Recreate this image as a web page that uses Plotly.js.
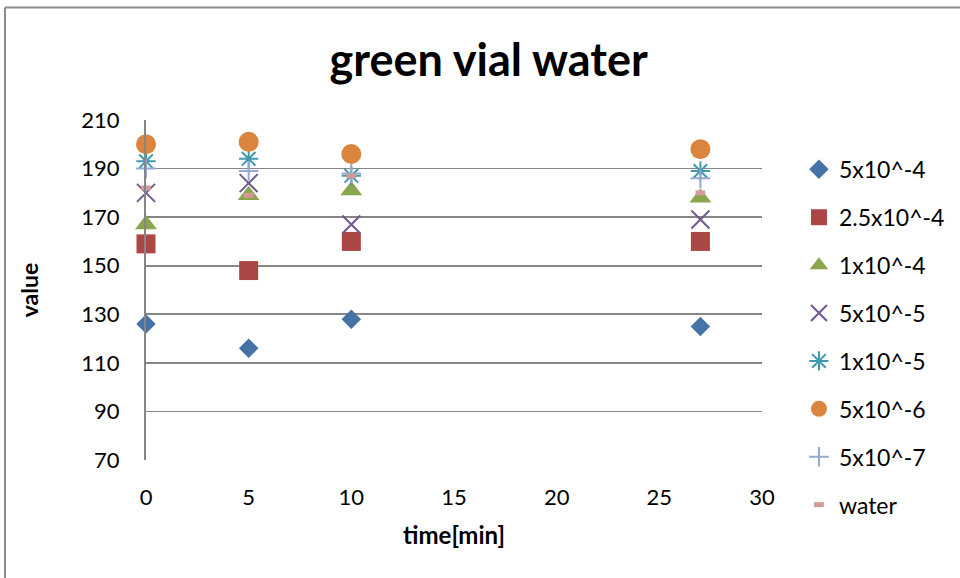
<!DOCTYPE html>
<html>
<head>
<meta charset="utf-8">
<script src="https://cdn.plot.ly/plotly-3.0.1.min.js"></script>
<style>
  html, body { margin: 0; padding: 0; background: #ffffff; }
  #chart { width: 960px; height: 578px; }
</style>
</head>
<body>
<div id="chart"></div>
<script>
// Sampling times in minutes
const times = [0, 5, 10, 27];

// Concentration series (legend labels) and measured values
const seriesNames = ["5x10^-4", "2.5x10^-4", "1x10^-4", "5x10^-5", "1x10^-5", "5x10^-6", "5x10^-7", "water"];
const conc5e4   = [126, 116, 128, 125];
const conc25e4  = [159, 148, 160, 160];
const conc1e4   = [167, 179, 181, 178];
const conc5e5   = [180, 184, 167, 169];
const conc1e5   = [193, 194, 187, 189];
const conc5e6   = [200, 201, 196, 198];
const conc5e7   = [190, 189, 188, 186];
const water     = [182, 179, 187, 180];

const yTicks = [70, 90, 110, 130, 150, 170, 190, 210];
const xTicks = [0, 5, 10, 15, 20, 25, 30];

const FONT = "Lato, 'Open Sans', sans-serif";

// Marker styling per series
const styles = [
  { symbol: "diamond",       size: 15, color: "#4572A7" },
  { symbol: "square",        size: 19, color: "#AA4643" },
  { symbol: "triangle-up",   size: 19, color: "#89A54E" },
  { symbol: "x-thin-open",   size: 18, color: "#71588F", line: 2 },
  { symbol: "asterisk-open", size: 16, color: "#4198AF", line: 2 },
  { symbol: "circle",        size: 20, color: "#DB843D" },
  { symbol: "cross-thin-open", size: 14, color: "#93A9CF", line: 2 },
  { symbol: "line-ew-open",  size: 7,  color: "#D49A9A", line: 5 }
];

const values = [conc5e4, conc25e4, conc1e4, conc5e5, conc1e5, conc5e6, conc5e7, water];

const traces = values.map((vals, i) => {
  const s = styles[i];
  const marker = { symbol: s.symbol, size: s.size, color: s.color };
  if (s.line) {
    marker.line = { color: s.color, width: s.line };
  } else {
    marker.line = { width: 0 };
  }
  return {
    type: "scatter",
    mode: "markers",
    name: seriesNames[i],
    legendgroup: "g" + i,
    x: times,
    y: vals,
    cliponaxis: false,
    marker: marker,
    hoverinfo: "x+y+name"
  };
});

const layout = {
  width: 960,
  height: 578,
  margin: { l: 146, r: 198, t: 120, b: 118, autoexpand: false },
  paper_bgcolor: "#ffffff",
  plot_bgcolor: "#ffffff",
  font: { family: FONT, color: "#000000", size: 21 },
  title: {
    text: "<b>green vial water</b>",
    font: { family: FONT, size: 45, color: "#000000" },
    x: 0.509, xanchor: "center",
    y: 0.895, yanchor: "middle"
  },
  showlegend: true,
  legend: {
    x: 1.06, xanchor: "left",
    y: 0.918, yanchor: "top",
    traceorder: "grouped",
    tracegroupgap: 15,
    maxheight: 500,
    font: { family: FONT, size: 23, color: "#000000" },
    bgcolor: "rgba(0,0,0,0)"
  },
  xaxis: {
    range: [0, 30],
    tickvals: xTicks,
    ticktext: xTicks.map(String),
    showgrid: false,
    zeroline: false,
    showline: false,
    ticks: "outside",
    ticklen: 18,
    tickcolor: "rgba(0,0,0,0)",
    tickfont: { family: FONT, size: 22 },
    title: {
      text: "<b>time[min]</b>",
      font: { family: FONT, size: 24 },
      standoff: 17
    }
  },
  yaxis: {
    range: [70, 210],
    tickvals: yTicks,
    ticktext: yTicks.map(String),
    showgrid: true,
    gridcolor: "#868686",
    gridwidth: 1.6,
    zeroline: false,
    showline: true,
    linecolor: "#868686",
    linewidth: 2,
    ticks: "outside",
    ticklen: 20,
    tickcolor: "rgba(0,0,0,0)",
    tickfont: { family: FONT, size: 22 },
    title: {
      text: "<b>value</b>",
      font: { family: FONT, size: 23 },
      standoff: 36
    }
  },
  shapes: [
    // chart-area frame: top edge and left edge
    { type: "line", xref: "paper", yref: "paper", x0: -0.2289, x1: 1.33, y0: 1.3309, y1: 1.3309,
      line: { color: "#8c8c8c", width: 2 } },
    { type: "line", xref: "paper", yref: "paper", x0: -0.2289, x1: -0.2289, y0: 1.3309, y1: -0.36,
      line: { color: "#8c8c8c", width: 2 } }
  ]
};

Plotly.newPlot("chart", traces, layout, { staticPlot: true, displayModeBar: false });
</script>
</body>
</html>
